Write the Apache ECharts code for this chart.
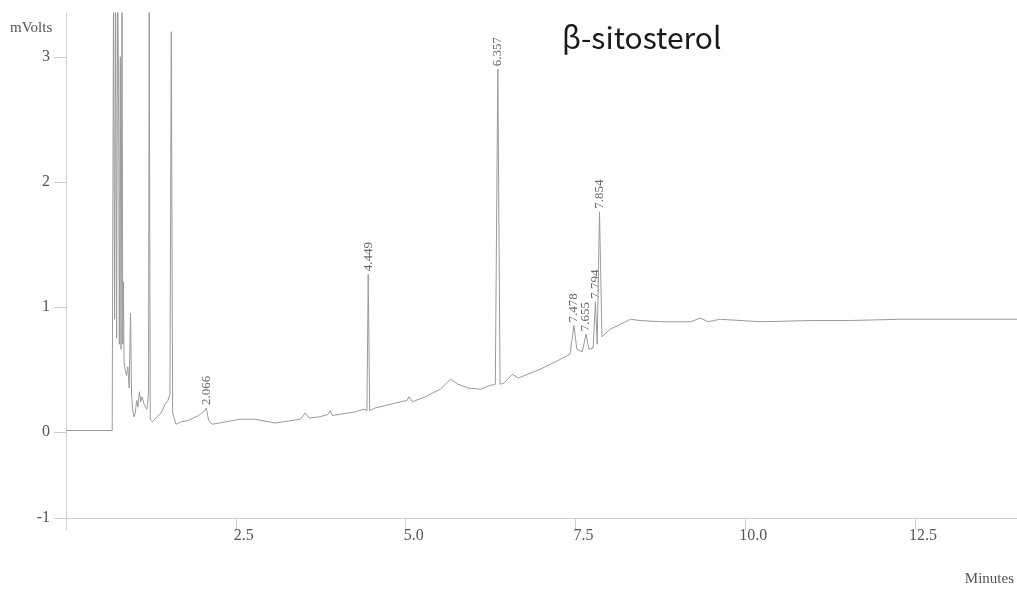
<!DOCTYPE html>
<html>
<head>
<meta charset="utf-8">
<script src="https://cdn.jsdelivr.net/npm/echarts@6/dist/echarts.min.js"></script>
<style>html,body{margin:0;padding:0;background:#fff}#c{width:1017px;height:590px}</style>
</head>
<body>
<div id="c"></div>
<script>
// Chromatogram trace: [time (min), signal (mV)]
const traceTimes = [0.00,0.68,0.69,0.70,0.715,0.73,0.745,0.76,0.775,0.785,0.80,0.81,0.825,0.835,0.845,0.855,0.87,0.89,0.91,0.93,0.95,0.965,0.98,1.00,1.02,1.04,1.06,1.08,1.10,1.12,1.15,1.19,1.215,1.225,1.24,1.27,1.34,1.40,1.46,1.50,1.53,1.55,1.57,1.62,1.70,1.80,1.95,2.03,2.066,2.10,2.15,2.56,2.78,3.08,3.45,3.52,3.58,3.74,3.86,3.89,3.92,4.04,4.26,4.39,4.43,4.449,4.47,4.55,4.85,5.02,5.05,5.10,5.29,5.51,5.66,5.77,5.92,6.10,6.24,6.32,6.357,6.39,6.45,6.57,6.66,6.98,7.28,7.42,7.478,7.52,7.60,7.655,7.70,7.76,7.794,7.82,7.854,7.89,7.95,8.01,8.16,8.31,8.45,8.75,9.20,9.34,9.45,9.63,10.22,11.00,11.55,12.28,13.20,14.00];
const traceValues = [0.01,0.01,0.02,3.6,0.9,3.6,0.75,3.6,2.7,0.7,3.0,0.66,3.6,0.7,1.2,0.55,0.5,0.45,0.52,0.35,0.95,0.3,0.18,0.12,0.15,0.25,0.2,0.32,0.24,0.28,0.22,0.18,0.3,3.6,0.1,0.08,0.12,0.15,0.22,0.25,0.3,3.2,0.15,0.06,0.08,0.09,0.13,0.16,0.19,0.09,0.06,0.10,0.10,0.07,0.10,0.15,0.11,0.12,0.14,0.17,0.13,0.14,0.16,0.18,0.17,1.26,0.17,0.19,0.23,0.25,0.28,0.24,0.28,0.34,0.42,0.38,0.35,0.34,0.37,0.38,2.9,0.38,0.39,0.46,0.43,0.50,0.58,0.62,0.85,0.66,0.64,0.78,0.66,0.67,1.04,0.70,1.76,0.76,0.79,0.82,0.86,0.90,0.89,0.88,0.88,0.91,0.88,0.90,0.88,0.89,0.89,0.90,0.90,0.90];

// Labelled peaks
const peakTimes = [2.066, 4.449, 6.357, 7.478, 7.655, 7.794, 7.854];
const peakHeights = [0.19, 1.26, 2.9, 0.85, 0.78, 1.04, 1.76];
const peakLabels = ['2.066', '4.449', '6.357', '7.478', '7.655', '7.794', '7.854'];

// Axis ticks
const xTicks = [0, 2.5, 5.0, 7.5, 10.0, 12.5];
const yTicks = [-0.69, 0, 1, 2, 3];

const serif = '"Liberation Serif", "Times New Roman", serif';
const trace = traceTimes.map((t, i) => [t, traceValues[i]]);
const peaks = peakTimes.map((t, i) => [t, peakHeights[i], peakLabels[i]]);

const chart = echarts.init(document.getElementById('c'), null, {renderer: 'canvas'});
chart.setOption({
  backgroundColor: '#ffffff',
  animation: false,
  title: {
    text: 'β-sitosterol',
    left: 557, top: 18,
    textStyle: {fontFamily: '"Noto Sans CJK KR", "Noto Sans", sans-serif', fontSize: 30, fontWeight: 'normal', color: '#1a1a1a'}
  },
  grid: {left: 66, right: 0, top: 13, bottom: 72, containLabel: false},
  xAxis: {
    type: 'value', min: 0, max: 14,
    axisLine: {show: true, onZero: false, lineStyle: {color: '#cfcfcf', width: 1}},
    axisTick: {show: true, length: 12, lineStyle: {color: '#cfcfcf'}, customValues: xTicks},
    axisLabel: {
      customValues: xTicks.slice(1),
      formatter: v => v.toFixed(1),
      color: '#555', fontFamily: serif, fontSize: 16, margin: 10,
      padding: [0, 0, 0, 16]
    },
    splitLine: {show: false}
  },
  yAxis: {
    type: 'value', min: -0.69, max: 3.35,
    axisLine: {show: true, onZero: false, lineStyle: {color: '#cfcfcf', width: 1}},
    axisTick: {show: true, length: 12, lineStyle: {color: '#cfcfcf'}, customValues: yTicks},
    axisLabel: {
      customValues: yTicks,
      formatter: v => String(Math.round(v)),
      color: '#555', fontFamily: serif, fontSize: 16, margin: 16
    },
    splitLine: {show: false}
  },
  graphic: [
    {type: 'text', left: 10, top: 21, style: {text: 'mVolts', fill: '#555', font: '15px ' + serif}},
    {type: 'text', right: 3, top: 572, style: {text: 'Minutes', fill: '#555', font: '15px ' + serif}}
  ],
  series: [
    {
      type: 'line', data: trace, showSymbol: false, clip: true,
      lineStyle: {color: '#9a9a9a', width: 1}, silent: true
    },
    {
      type: 'scatter', data: peaks, symbolSize: 0, silent: true,
      label: {
        show: true, position: 'top', distance: 3, rotate: 90,
        align: 'left', verticalAlign: 'middle',
        formatter: p => p.data[2],
        color: '#444', fontFamily: serif, fontSize: 13
      }
    }
  ]
});
</script>
</body>
</html>
